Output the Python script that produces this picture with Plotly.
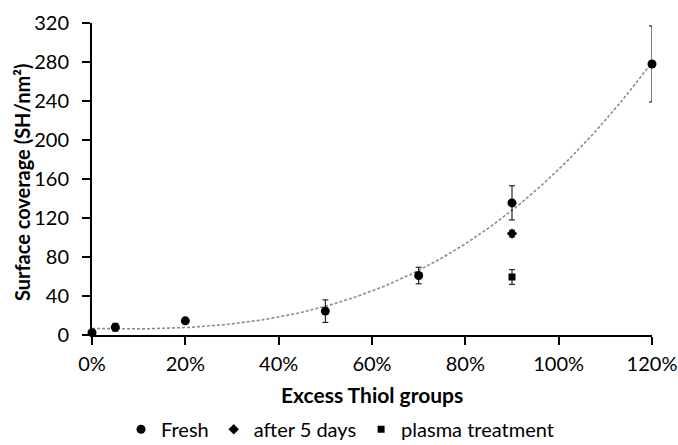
import numpy as np
import plotly.graph_objects as go

# Data
fresh_x = [0.0, 0.05, 0.20, 0.50, 0.70, 0.90, 1.20]
fresh_y = [2.4, 8.0, 14.5, 24.5, 61.0, 135.5, 278.0]
fresh_err = [0, 4.0, 0, 11.5, 8.5, 17.5, 39.0]

aged_x = [0.90]
aged_y = [104.0]
aged_err = [3.5]

plasma_x = [0.90]
plasma_y = [59.5]
plasma_err = [7.5]

x_ticks = [0, 0.2, 0.4, 0.6, 0.8, 1.0, 1.2]
x_labels = ["0%", "20%", "40%", "60%", "80%", "100%", "120%"]
y_ticks = [0, 40, 80, 120, 160, 200, 240, 280, 320]

x_title = "Excess Thiol groups"
y_title = "Surface coverage (SH/nm²)"

# Polynomial trendline (order 3) fitted to the fresh data
coef = np.polyfit(fresh_x, fresh_y, 3)
trend_x = np.linspace(min(fresh_x), max(fresh_x), 200)
trend_y = np.polyval(coef, trend_x)

FONT = "Lato"

fig = go.Figure()
fig.add_trace(go.Scatter(
    x=trend_x, y=trend_y, mode="lines", showlegend=False, hoverinfo="skip",
    line=dict(color="#8c8c8c", width=1.6, dash="3px,2px"),
))
err_style = dict(type="data", visible=True, color="black", thickness=1, width=3)
fig.add_trace(go.Scatter(
    x=fresh_x, y=fresh_y, mode="markers", name="Fresh",
    marker=dict(symbol="circle", size=9, color="black"),
    error_y=dict(array=fresh_err, **err_style),
))
fig.add_trace(go.Scatter(
    x=aged_x, y=aged_y, mode="markers", name="after 5 days",
    marker=dict(symbol="diamond", size=8, color="black"),
    error_y=dict(array=aged_err, **err_style),
))
fig.add_trace(go.Scatter(
    x=plasma_x, y=plasma_y, mode="markers", name="plasma treatment",
    marker=dict(symbol="square", size=7, color="black"),
    error_y=dict(array=plasma_err, **err_style),
))
fig.update_traces(cliponaxis=False)

fig.update_layout(
    width=678, height=445,
    margin=dict(l=92, r=26, t=23, b=110, autoexpand=False),
    paper_bgcolor="white", plot_bgcolor="white",
    font=dict(family=FONT, size=20, color="black"),
    legend=dict(
        orientation="h", xref="container", yref="paper",
        x=0.5015, xanchor="center", y=-0.302, yanchor="middle",
        font=dict(family=FONT, size=20, color="black"),
        itemwidth=30, tracegroupgap=0,
    ),
    xaxis=dict(
        range=[0, 1.2], tickvals=x_ticks, ticktext=x_labels, automargin=False,
        showgrid=False, zeroline=False, showline=True, linecolor="black", linewidth=2,
        ticks="outside", ticklen=8, tickwidth=2, tickcolor="black",
        tickfont=dict(size=20), ticklabelstandoff=2,
    ),
    yaxis=dict(
        range=[0, 320], tickvals=y_ticks, automargin=False,
        showgrid=False, zeroline=False, showline=True, linecolor="black", linewidth=2,
        ticks="outside", ticklen=8, tickwidth=2, tickcolor="black",
        tickfont=dict(size=20), ticklabelstandoff=9,
    ),
    annotations=[
        dict(text=f"<b>{x_title}</b>", xref="paper", yref="paper", x=0.5, y=-0.192,
             xanchor="center", yanchor="middle", showarrow=False,
             font=dict(family=FONT, size=21, color="black")),
        dict(text=f"<b>{y_title}</b>", xref="paper", yref="paper", x=-0.125, y=0.49,
             xanchor="center", yanchor="middle", showarrow=False, textangle=-90,
             font=dict(family=FONT, size=20, color="black")),
    ],
)

# Remove the default 8px page margin so the figure fills the window exactly.
fig.write_html("out.html",
               config={"displayModeBar": False},
               post_script="document.body.style.margin='0';document.body.style.overflow='hidden';")
